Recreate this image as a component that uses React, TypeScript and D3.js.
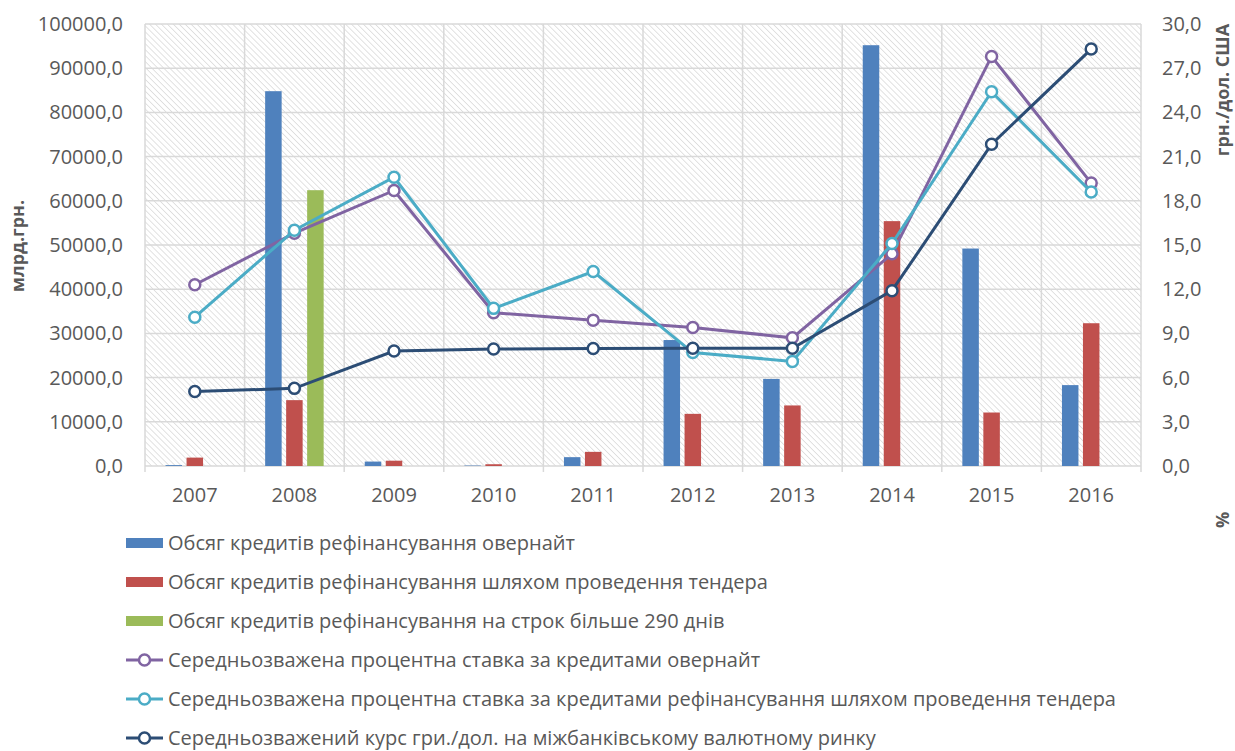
import React from "react";
import * as d3 from "d3";

const years = ["2007", "2008", "2009", "2010", "2011", "2012", "2013", "2014", "2015", "2016"];
const overnightVolume = [200, 84800, 1000, 100, 2000, 28500, 19700, 95200, 49200, 18300];
const tenderVolume = [1900, 14900, 1200, 400, 3200, 11800, 13700, 55400, 12100, 32300];
const longTermVolume = [0, 62400, 0, 0, 0, 0, 0, 0, 0, 0];
const overnightRate = [12.3, 15.8, 18.7, 10.4, 9.9, 9.4, 8.7, 14.4, 27.8, 19.2];
const tenderRate = [10.1, 16.0, 19.6, 10.7, 13.2, 7.7, 7.1, 15.1, 25.4, 18.6];
const exchangeRate = [5.05, 5.27, 7.8, 7.94, 7.97, 7.99, 7.99, 11.9, 21.84, 28.3];
const leftTicks = [0, 10000, 20000, 30000, 40000, 50000, 60000, 70000, 80000, 90000, 100000];
const rightTicks = [0, 3, 6, 9, 12, 15, 18, 21, 24, 27, 30];

const barSeries = [
  { name: "Обсяг кредитів рефінансування овернайт", values: overnightVolume, color: "#4F81BD" },
  { name: "Обсяг кредитів рефінансування шляхом проведення тендера", values: tenderVolume, color: "#C0504D" },
  { name: "Обсяг кредитів рефінансування на строк більше 290 днів", values: longTermVolume, color: "#9BBB59" },
];
const lineSeries = [
  { name: "Середньозважена процентна ставка за кредитами овернайт", values: overnightRate, color: "#8064A2" },
  { name: "Середньозважена процентна ставка за кредитами рефінансування шляхом проведення тендера", values: tenderRate, color: "#4BACC6" },
  { name: "Середньозважений курс гри./дол. на міжбанківському валютному ринку", values: exchangeRate, color: "#2C4D75" },
];

const fmt = (v: number) => v.toFixed(1).replace(".", ",");

export default function App() {
  const W = 1235, H = 751;
  const left = 145, right = 1141, top = 24, bottom = 466;
  const x = d3.scaleBand<string>().domain(years).range([left, right]).paddingInner(0).paddingOuter(0);
  const yL = d3.scaleLinear().domain([0, 100000]).range([bottom, top]);
  const yR = d3.scaleLinear().domain([0, 30]).range([bottom, top]);
  const barW = 16.5;
  const barStep = 21;
  const font = "'Open Sans', sans-serif";
  const txt = "#595959";
  const grid = "#d9d9d9";
  const fs = 20;

  return (
    <svg width={W} height={H} style={{ position: "absolute", left: 0, top: 0, background: "#fff" }} fontFamily={font}>
      <defs>
        <pattern id="hatch" patternUnits="userSpaceOnUse" width={4.2} height={4.2} patternTransform="rotate(-45)">
          <rect width={4.2} height={4.2} fill="#fff" />
          <line x1={0} y1={0} x2={0} y2={4.2} stroke="#dcdcdc" strokeWidth={1.6} />
        </pattern>
      </defs>
      <rect x={left} y={top} width={right - left} height={bottom - top} fill="url(#hatch)" />
      {leftTicks.map((t) => (
        <line key={"h" + t} x1={left} x2={right} y1={yL(t)} y2={yL(t)} stroke={grid} strokeWidth={1.5} />
      ))}
      {years.map((yr) => (
        <line key={"v" + yr} x1={x(yr)!} x2={x(yr)!} y1={top} y2={bottom + 6} stroke={grid} strokeWidth={1.5} />
      ))}
      <line x1={right} x2={right} y1={top} y2={bottom + 6} stroke={grid} strokeWidth={1.5} />
      {leftTicks.map((t) => (
        <text key={"lt" + t} x={123} y={yL(t)} dy="0.35em" textAnchor="end" fontSize={fs} fill={txt}>{fmt(t)}</text>
      ))}
      {rightTicks.map((t) => (
        <text key={"rt" + t} x={1162} y={yR(t)} dy="0.35em" textAnchor="start" fontSize={fs} fill={txt}>{fmt(t)}</text>
      ))}
      {years.map((yr) => (
        <text key={"xl" + yr} x={x(yr)! + x.bandwidth() / 2} y={495} dy="0.35em" textAnchor="middle" fontSize={fs} fill={txt}>{yr}</text>
      ))}
      <text transform={`translate(24,246) rotate(-90)`} textAnchor="middle" fontSize={18} fontWeight="bold" fill={txt}>млрд.грн.</text>
      <text transform={`translate(1229,90) rotate(-90)`} textAnchor="middle" fontSize={18} fontWeight="bold" fill={txt}>грн./дол. США</text>
      <text transform={`translate(1229,520) rotate(-90)`} textAnchor="middle" fontSize={18} fontWeight="bold" fill={txt}>%</text>

      {barSeries.map((s, si) => (
        <g key={"b" + si}>
          {s.values.map((v, i) => {
            if (v <= 0) return null;
            const cx = x(years[i])! + x.bandwidth() / 2 + (si - 1) * barStep;
            return <rect key={i} x={cx - barW / 2} y={yL(v)} width={barW} height={bottom - yL(v)} fill={s.color} />;
          })}
        </g>
      ))}

      {lineSeries.map((s, si) => {
        const line = d3.line<number>().x((_, i) => x(years[i])! + x.bandwidth() / 2).y((v) => yR(v));
        return (
          <g key={"l" + si}>
            <path d={line(s.values) || ""} fill="none" stroke={s.color} strokeWidth={3} />
            {s.values.map((v, i) => (
              <circle key={i} cx={x(years[i])! + x.bandwidth() / 2} cy={yR(v)} r={5.5} fill="#fff" stroke={s.color} strokeWidth={2.5} />
            ))}
          </g>
        );
      })}

      {barSeries.map((s, i) => {
        const cy = 543 + i * 39;
        return (
          <g key={"lg" + i}>
            <rect x={126} y={cy - 5} width={37} height={10} fill={s.color} />
            <text x={168} y={cy} dy="0.35em" fontSize={fs} fill={txt}>{s.name}</text>
          </g>
        );
      })}
      {lineSeries.map((s, j) => {
        const cy = 543 + (j + 3) * 39;
        return (
          <g key={"ll" + j}>
            <line x1={126} x2={163} y1={cy} y2={cy} stroke={s.color} strokeWidth={3} />
            <circle cx={144.5} cy={cy} r={5.5} fill="#fff" stroke={s.color} strokeWidth={2.5} />
            <text x={168} y={cy} dy="0.35em" fontSize={fs} fill={txt}>{s.name}</text>
          </g>
        );
      })}
    </svg>
  );
}
